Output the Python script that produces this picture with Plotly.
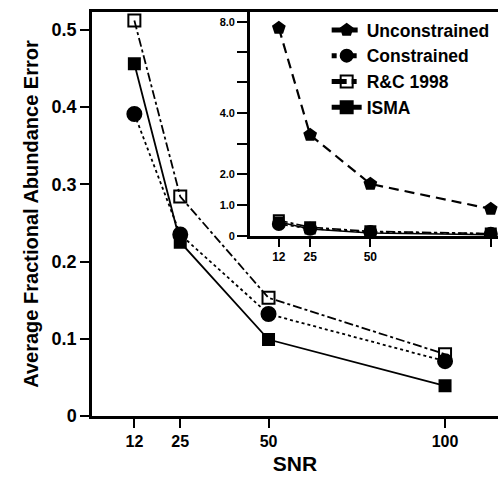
import plotly.graph_objects as go

# ---- data ----
snr = [12, 25, 50, 100]
unconstrained = [7.73, 3.28, 1.69, 0.88]
constrained = [0.391, 0.235, 0.132, 0.071]
rc1998 = [0.512, 0.284, 0.153, 0.080]
isma = [0.456, 0.225, 0.099, 0.039]

main_yticks = [0, 0.1, 0.2, 0.3, 0.4, 0.5]
main_yticktext = ["0", "0.1", "0.2", "0.3", "0.4", "0.5"]
inset_yticks_values = [0, 1, 2, 3, 4, 5.333, 6.667, 8]
inset_yticktext = ["0", "1.0", "2.0", "", "4.0", "", "", "8.0"]

# inset y axis is segmented: 0-4 linear, 4-8 compressed
BREAK = 4.0
UPPER_SCALE = 0.7375


def seg(v):
    return v if v <= BREAK else BREAK + (v - BREAK) * UPPER_SCALE


FONT = "Liberation Sans, Arial, sans-serif"

styles = {
    "Unconstrained": dict(dash="10px,6px", symbol="pentagon", size=14),
    "Constrained": dict(dash="dot", symbol="circle", size=14),
    "R&C 1998": dict(dash="dashdot", symbol="square-open", size=12),
    "ISMA": dict(dash="solid", symbol="square", size=11),
}

fig = go.Figure()

# main panel
for name, vals in [("Constrained", constrained), ("R&C 1998", rc1998), ("ISMA", isma)]:
    st = styles[name]
    fig.add_trace(go.Scatter(
        x=snr, y=vals, mode="lines+markers", name=name, showlegend=False,
        line=dict(color="black", width=1.8, dash=st["dash"]),
        marker=dict(symbol=st["symbol"], size=st["size"], color="black",
                    line=dict(color="black", width=2)),
        xaxis="x", yaxis="y",
    ))

# inset panel
for name, vals in [("Unconstrained", unconstrained), ("Constrained", constrained),
                   ("R&C 1998", rc1998), ("ISMA", isma)]:
    st = styles[name]
    fig.add_trace(go.Scatter(
        x=snr, y=[seg(v) for v in vals], mode="lines+markers", name=name,
        line=dict(color="black", width=2.2 if name == "Unconstrained" else 1.6, dash=st["dash"]),
        marker=dict(symbol=st["symbol"], size=st["size"] - 2, color="black",
                    line=dict(color="black", width=2)),
        xaxis="x2", yaxis="y2",
    ))

axis_common = dict(showgrid=False, zeroline=False, showline=True, linecolor="black",
                   ticks="outside", tickcolor="black")

fig.update_layout(
    width=498, height=477,
    margin=dict(l=92, r=0, t=12, b=61),
    paper_bgcolor="white", plot_bgcolor="white",
    font=dict(family=FONT, color="black"),
    xaxis=dict(**axis_common, range=[0, 115], linewidth=2.5, tickwidth=2, ticklen=9,
               mirror=True, tickvals=snr, ticktext=[str(s) for s in snr],
               tickfont=dict(size=16, family=FONT, weight="bold"),
               title=dict(text="SNR", font=dict(size=21, family=FONT, weight="bold"), standoff=8)),
    yaxis=dict(**axis_common, range=[0, 0.523], linewidth=2.5, tickwidth=2, ticklen=9,
               tickvals=main_yticks, ticktext=main_yticktext,
               tickfont=dict(size=18, family=FONT, weight="bold"),
               title=dict(text="Average Fractional Abundance Error",
                          font=dict(size=20, family=FONT, weight="bold"), standoff=8)),
    xaxis2=dict(**axis_common, domain=[0.389, 1.0], anchor="y2", range=[0, 103],
                linewidth=2.5, tickwidth=2, ticklen=8,
                tickvals=snr, ticktext=[str(s) for s in snr],
                tickfont=dict(size=12, family=FONT, weight="bold")),
    yaxis2=dict(**axis_common, domain=[0.4455, 1.0], anchor="x2", range=[0, 7.27],
                linewidth=2.5, tickwidth=2, ticklen=10,
                tickvals=[seg(v) for v in inset_yticks_values], ticktext=inset_yticktext,
                tickfont=dict(size=11, family=FONT, weight="bold")),
    legend=dict(x=0.578, y=1.0, xanchor="left", yanchor="top",
                bgcolor="rgba(0,0,0,0)", font=dict(size=17.5, family=FONT, weight="bold"),
                tracegroupgap=0, itemsizing="constant"),
)

fig.write_html("out.html")
